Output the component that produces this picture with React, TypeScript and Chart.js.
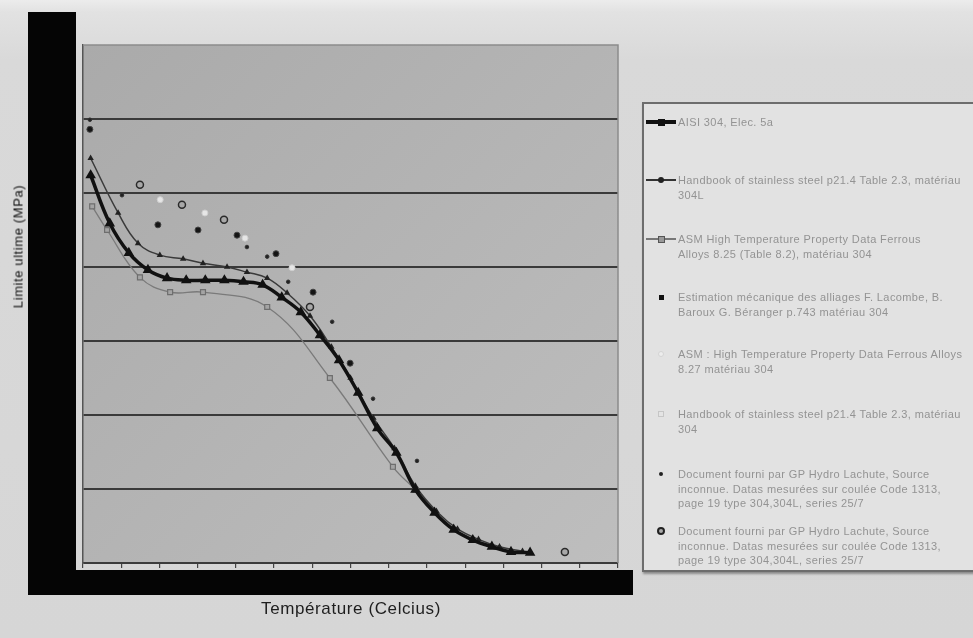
import React, { useEffect, useRef } from "react";
import { Chart, registerables } from "chart.js";
Chart.register(...registerables);

// Axis ranges (tick labels are hidden behind the black bars in the photo)
const xMin = 0;
const xMax = 1400;
const xStep = 100;
const yMin = 0;
const yMax = 700;
const yStep = 100;

// Series 1 – bold line
const s1T = [20, 70, 120, 170, 220, 270, 320, 370, 420, 470, 520, 570, 620, 670, 720, 770, 820, 870, 920, 970, 1020, 1070, 1120, 1170];
const s1S = [524, 459, 419, 396, 385, 382, 382, 382, 380, 376, 359, 339, 308, 274, 230, 182, 149, 99, 68, 45, 31, 22, 15, 14];
// Series 2 – upper thin line
const s2T = [20, 92, 144, 201, 262, 314, 377, 429, 482, 534, 594, 650, 700, 760, 815, 870, 925, 980, 1035, 1090, 1150];
const s2S = [547, 473, 432, 416, 411, 405, 400, 393, 385, 365, 334, 292, 250, 196, 155, 104, 70, 46, 32, 22, 16];
// Series 3 – lower grey line with squares
const s3T = [24, 63, 149, 228, 314, 482, 646, 811, 870];
const s3S = [482, 450, 386, 366, 366, 346, 250, 130, 99];
// Series 4 – filled black dots
const s4T = [18, 196, 301, 403, 505, 602, 699];
const s4S = [586, 457, 450, 443, 418, 366, 270];
// Series 5 – pale points
const s5T = [202, 319, 424, 547];
const s5S = [491, 473, 439, 399];
// Series 6 – pale squares
const s6T: number[] = [];
const s6S: number[] = [];
// Series 7 – small black dots
const s7T = [18, 102, 429, 482, 537, 652, 759, 874];
const s7S = [599, 497, 427, 414, 380, 326, 222, 138];
// Series 8 – hollow circles
const s8T = [149, 259, 369, 594, 1261];
const s8S = [511, 484, 464, 346, 15];

const legendLines: string[][] = [
  ["AISI 304, Elec. 5a"],
  ["Handbook of stainless steel p21.4 Table 2.3, matériau", "304L"],
  ["ASM High Temperature Property Data Ferrous", "Alloys 8.25 (Table 8.2), matériau 304"],
  ["Estimation mécanique des alliages F. Lacombe, B.", "Baroux G. Béranger p.743 matériau 304"],
  ["ASM : High Temperature Property Data Ferrous Alloys", "8.27 matériau 304"],
  ["Handbook of stainless steel p21.4 Table 2.3, matériau", "304"],
  ["Document fourni par GP Hydro Lachute, Source", "inconnue. Datas mesurées sur coulée Code 1313,", "page 19 type 304,304L, series 25/7"],
  ["Document fourni par GP Hydro Lachute, Source", "inconnue. Datas mesurées sur coulée Code 1313,", "page 19 type 304,304L, series 25/7"],
];
const legendTops = [18, 76, 135, 193, 250, 310, 370, 427];

const W = 973;
const H = 638;

function pts(t: number[], s: number[]) {
  return t.map((x, i) => ({ x, y: s[i] }));
}

function Marker({ i }: { i: number }) {
  const wrap: React.CSSProperties = { position: "absolute", left: 2, top: -7, width: 32, height: 14 };
  const line = (h: number, c: string): React.CSSProperties => ({ position: "absolute", left: 0, width: 30, top: 7 - h / 2, height: h, background: c });
  const dot = (sz: number, bg: string, border?: string, round = true): React.CSSProperties => ({
    position: "absolute", left: 15 - sz / 2, top: 7 - sz / 2, width: sz, height: sz, background: bg,
    border: border || "none", boxSizing: "border-box", borderRadius: round ? "50%" : 0,
  });
  if (i === 0) return <div style={wrap}><div style={line(3.5, "#111")} /><div style={dot(7, "#111", undefined, false)} /></div>;
  if (i === 1) return <div style={wrap}><div style={line(2, "#333")} /><div style={dot(6, "#222")} /></div>;
  if (i === 2) return <div style={wrap}><div style={line(2, "#777")} /><div style={dot(7, "#999", "1.5px solid #555", false)} /></div>;
  if (i === 3) return <div style={wrap}><div style={dot(5, "#111", undefined, false)} /></div>;
  if (i === 4) return <div style={wrap}><div style={dot(6, "#ededed", "1px solid #d4d4d4")} /></div>;
  if (i === 5) return <div style={wrap}><div style={dot(6, "#e4e4e4", "1px solid #c6c6c6", false)} /></div>;
  if (i === 6) return <div style={wrap}><div style={dot(4, "#222")} /></div>;
  return <div style={wrap}><div style={dot(8, "#aaa", "2px solid #222")} /></div>;
}

export default function App() {
  const ref = useRef<HTMLCanvasElement>(null);

  useEffect(() => {
    const plotBg = {
      id: "plotBg",
      beforeDraw(c: any) {
        const { ctx, chartArea: a } = c;
        const g = ctx.createLinearGradient(a.left, a.top, a.right, a.bottom);
        g.addColorStop(0, "#aaaaaa");
        g.addColorStop(0.5, "#b4b4b4");
        g.addColorStop(1, "#bebebe");
        ctx.save();
        ctx.fillStyle = g;
        ctx.fillRect(a.left, a.top, a.right - a.left, a.bottom - a.top);
        ctx.restore();
      },
      afterDraw(c: any) {
        const { ctx, chartArea: a } = c;
        ctx.save();
        ctx.strokeStyle = "#8c8c8c";
        ctx.lineWidth = 1.5;
        ctx.beginPath();
        ctx.moveTo(a.left, a.top);
        ctx.lineTo(a.right, a.top);
        ctx.lineTo(a.right, a.bottom);
        ctx.stroke();
        ctx.restore();
      },
    };

    const chart = new Chart(ref.current!, {
      type: "scatter",
      data: {
        datasets: [
          {
            label: legendLines[0].join(" "), data: pts(s1T, s1S), showLine: true, tension: 0.4,
            borderColor: "#111", borderWidth: 3.5, pointStyle: "triangle", pointRadius: 2.6,
            pointBackgroundColor: "#111", pointBorderColor: "#111",
          },
          {
            label: legendLines[1].join(" "), data: pts(s2T, s2S), showLine: true, tension: 0.4,
            borderColor: "#3a3a3a", borderWidth: 1.5, pointStyle: "triangle", pointRadius: 2.2,
            pointBackgroundColor: "#222", pointBorderColor: "#222",
          },
          {
            label: legendLines[2].join(" "), data: pts(s3T, s3S), showLine: true, tension: 0.4,
            borderColor: "#7a7a7a", borderWidth: 1.3, pointStyle: "rect", pointRadius: 3.5,
            pointBackgroundColor: "#a4a4a4", pointBorderColor: "#6e6e6e", pointBorderWidth: 1.2,
          },
          {
            label: legendLines[3].join(" "), data: pts(s4T, s4S), showLine: false,
            pointStyle: "circle", pointRadius: 3, pointBackgroundColor: "#151515", pointBorderColor: "#444",
          },
          {
            label: legendLines[4].join(" "), data: pts(s5T, s5S), showLine: false,
            pointStyle: "circle", pointRadius: 3, pointBackgroundColor: "#e6e6e6", pointBorderColor: "#cfcfcf",
          },
          {
            label: legendLines[5].join(" "), data: pts(s6T, s6S), showLine: false,
            pointStyle: "rect", pointRadius: 3, pointBackgroundColor: "#dedede", pointBorderColor: "#c2c2c2",
          },
          {
            label: legendLines[6].join(" "), data: pts(s7T, s7S), showLine: false,
            pointStyle: "circle", pointRadius: 1.8, pointBackgroundColor: "#222", pointBorderColor: "#333",
          },
          {
            label: legendLines[7].join(" "), data: pts(s8T, s8S), showLine: false,
            pointStyle: "circle", pointRadius: 3.5, pointBackgroundColor: "#a8a8a8", pointBorderColor: "#2a2a2a", pointBorderWidth: 1.5,
          },
        ],
      },
      options: {
        responsive: false,
        animation: false,
        devicePixelRatio: 1,
        layout: { padding: { left: 83, top: 45, right: W - 618, bottom: H - 563 } },
        plugins: { legend: { display: false }, tooltip: { enabled: false }, title: { display: false } },
        scales: {
          x: {
            type: "linear", min: xMin, max: xMax,
            ticks: { display: false, stepSize: xStep },
            grid: { drawOnChartArea: false, drawTicks: true, tickLength: 5, color: "#444", lineWidth: 1.2 },
            border: { display: true, color: "#3c3c3c", width: 1.5 },
            afterFit: (s: any) => { s.height = 0; },
          },
          y: {
            type: "linear", min: yMin, max: yMax,
            ticks: { display: false, stepSize: yStep },
            grid: {
              drawTicks: false,
              color: (c: any) => (c.tick && c.tick.value === yMax ? "rgba(0,0,0,0)" : "#3a3a3a"),
              lineWidth: 2,
            },
            border: { display: true, color: "#555", width: 1.5 },
            afterFit: (s: any) => { s.width = 0; },
          },
        },
      },
      plugins: [plotBg],
    } as any);
    return () => chart.destroy();
  }, []);

  return (
    <div style={{ position: "fixed", left: 0, top: 0, width: W, height: H, overflow: "hidden",
      background: "linear-gradient(180deg, #ececec 0px, #e2e2e2 12px, #d9d9d9 60px, #d6d6d6 100%)",
      fontFamily: "'Liberation Sans', Arial, sans-serif" }}>
      {/* black obstructions seen in the photo */}
      <div style={{ position: "absolute", left: 28, top: 12, width: 48, height: 583, background: "#050505" }} />
      <div style={{ position: "absolute", left: 28, top: 570, width: 605, height: 25, background: "#050505" }} />
      <canvas ref={ref} width={W} height={H} style={{ position: "absolute", left: 0, top: 0, width: W, height: H }} />
      <div style={{ position: "absolute", left: 18, top: 247, width: 0, height: 0 }}>
        <div style={{ position: "absolute", left: -90, top: -8, width: 180, textAlign: "center", transform: "rotate(-90deg)",
          fontSize: 13, color: "#111", whiteSpace: "nowrap", letterSpacing: 0.6 }}>Limite ultime (MPa)</div>
      </div>
      <div style={{ position: "absolute", left: 221, top: 599, width: 260, textAlign: "center", fontSize: 17,
        color: "#1e1e1e", whiteSpace: "nowrap", letterSpacing: 0.6 }}>Température (Celcius)</div>
      <div style={{ position: "absolute", left: 642, top: 102, width: 345, height: 470, background: "#e2e2e2",
        border: "2px solid #6d6d6d", boxSizing: "border-box", boxShadow: "1px 2px 2px rgba(0,0,0,0.35)" }}>
        {legendLines.map((lines, i) => (
          <div key={i} style={{ position: "absolute", left: 0, top: legendTops[i], width: 345 }}>
            <Marker i={i} />
            <div style={{ position: "absolute", left: 34, top: -7, fontSize: 11, lineHeight: "14.5px", color: "#939393",
              whiteSpace: "nowrap", letterSpacing: 0.4, filter: "blur(0.4px)" }}>
              {lines.map((l, k) => <div key={k}>{l}</div>)}
            </div>
          </div>
        ))}
      </div>
    </div>
  );
}
